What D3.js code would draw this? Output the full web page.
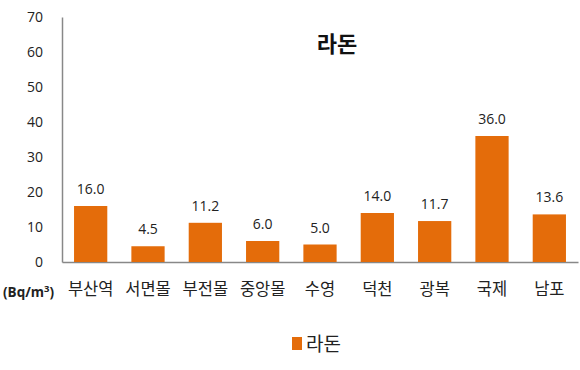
<!DOCTYPE html>
<html><head><meta charset="utf-8">
<script src="https://cdn.jsdelivr.net/npm/d3@7"></script>
<style>body{margin:0;background:#fff;} text{font-family:"Noto Sans CJK KR","Noto Sans",sans-serif;}</style>
</head><body><svg id="c" width="580" height="370"></svg>
<script>
const categories = ["부산역","서면몰","부전몰","중앙몰","수영","덕천","광복","국제","남포"];
const values = [16.0, 4.5, 11.2, 6.0, 5.0, 14.0, 11.7, 36.0, 13.6];
const yTicks = [0,10,20,30,40,50,60,70];
const seriesName = "라돈";
const unitLabel = "(Bq/m";

const svg = d3.select("#c");
const x = d3.scaleBand().domain(categories).range([62, 578]).paddingInner(0.42).paddingOuter(0.21);
const y = d3.scaleLinear().domain([0,70]).range([262, 17]);
const color = "#E46C0A";

// y axis
const ya = svg.append("g").attr("transform","translate(62,0)")
  .call(d3.axisLeft(y).tickValues(yTicks).tickSize(0).tickPadding(19));
ya.select(".domain").attr("stroke","#888").attr("stroke-width",1.5);
ya.selectAll("text").attr("font-size",14).attr("fill","#222").style("font-family","'Open Sans','DejaVu Sans',sans-serif");

// x axis
const xa = svg.append("g").attr("transform","translate(0,262)")
  .call(d3.axisBottom(x).tickSize(0).tickPadding(21));
xa.select(".domain").attr("stroke","#888").attr("stroke-width",1.5);
xa.selectAll("text").attr("font-size",16.5).attr("fill","#222");

// unit label
const ut = svg.append("text").attr("x",3).attr("y",297).attr("font-size",13.5).attr("font-weight","bold").attr("fill","#222")
  .style("font-family","'Open Sans','DejaVu Sans',sans-serif");
ut.append("tspan").text(unitLabel);
ut.append("tspan").attr("dy",-5).attr("font-size",9.5).text("3");
ut.append("tspan").attr("dy",5).text(")");

// bars
svg.selectAll("rect.bar").data(values).join("rect").attr("class","bar")
  .attr("x",(d,i)=>x(categories[i])).attr("width",x.bandwidth())
  .attr("y",d=>y(d)).attr("height",d=>y(0)-y(d)).attr("fill",color);

// value labels
svg.selectAll("text.val").data(values).join("text").attr("class","val")
  .attr("x",(d,i)=>x(categories[i])+x.bandwidth()/2).attr("y",d=>y(d)-12)
  .attr("text-anchor","middle").attr("font-size",14).attr("fill","#222")
  .style("font-family","'Open Sans','DejaVu Sans',sans-serif")
  .text(d=>d.toFixed(1));

// title
svg.append("text").attr("x",337).attr("y",52).attr("text-anchor","middle")
  .attr("font-size",22).attr("font-weight","bold").attr("fill","#111").text(seriesName);

// legend
svg.append("rect").attr("x",292).attr("y",337).attr("width",10).attr("height",13).attr("fill",color);
svg.append("text").attr("x",306).attr("y",351).attr("font-size",19).attr("fill","#222").text(seriesName);
</script></body></html>
